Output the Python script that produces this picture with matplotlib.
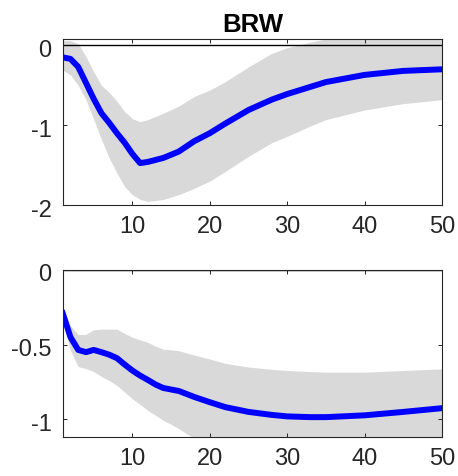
import numpy as np
import matplotlib.pyplot as plt
from matplotlib.transforms import ScaledTranslation

# ---------------------------------------------------------------
# Impulse responses (horizon 1..50)
# ---------------------------------------------------------------
h_top = [1, 2, 3, 4, 5, 6, 7, 8, 9, 10, 11, 12, 14, 16, 18, 20, 22, 25,
         28, 30, 33, 35, 40, 45, 50]
irf_top = [-0.15, -0.17, -0.27, -0.47, -0.67, -0.85, -0.97, -1.10, -1.22,
           -1.36, -1.475, -1.46, -1.41, -1.33, -1.20, -1.10, -0.98, -0.81,
           -0.68, -0.61, -0.52, -0.46, -0.37, -0.32, -0.30]
upper_top = [0.06, 0.06, 0.02, -0.14, -0.33, -0.50, -0.59, -0.70, -0.83,
             -0.92, -0.955, -0.93, -0.85, -0.76, -0.64, -0.56, -0.455, -0.27,
             -0.10, -0.03, 0.04, 0.08, 0.12, 0.14, 0.15]
lower_top = [-0.31, -0.37, -0.50, -0.68, -0.93, -1.18, -1.41, -1.60, -1.77,
             -1.87, -1.93, -1.955, -1.93, -1.87, -1.79, -1.70, -1.58, -1.39,
             -1.22, -1.14, -1.01, -0.93, -0.81, -0.73, -0.68]

h_bot = [1, 2, 3, 4, 5, 6, 7, 8, 9, 10, 11, 12, 13, 14, 15, 16, 17, 18,
         20, 22, 25, 28, 30, 33, 35, 40, 45, 50]
irf_bot = [-0.29, -0.45, -0.535, -0.55, -0.535, -0.55, -0.567, -0.59, -0.633,
           -0.673, -0.707, -0.736, -0.767, -0.79, -0.80, -0.81, -0.83, -0.85,
           -0.885, -0.918, -0.95, -0.97, -0.98, -0.985, -0.985, -0.973,
           -0.95, -0.925]
upper_bot = [-0.25, -0.373, -0.433, -0.43, -0.40, -0.396, -0.396, -0.396,
             -0.425, -0.45, -0.468, -0.485, -0.51, -0.53, -0.535, -0.54,
             -0.555, -0.57, -0.596, -0.625, -0.65, -0.665, -0.673, -0.68,
             -0.684, -0.684, -0.673, -0.662]
lower_bot = [-0.33, -0.54, -0.647, -0.66, -0.68, -0.713, -0.74, -0.773,
             -0.818, -0.862, -0.90, -0.94, -0.973, -1.007, -1.033, -1.062,
             -1.096, -1.125, -1.17, -1.21, -1.26, -1.30, -1.32, -1.34, -1.35,
             -1.36, -1.36, -1.36]

title = 'BRW'
xticks = [10, 20, 30, 40, 50]
yticks_top = [0, -1, -2]
yticks_bot = [0, -0.5, -1]

# ---------------------------------------------------------------
plt.rcParams['font.family'] = ['Liberation Sans', 'DejaVu Sans']
dark = '#262626'

fig = plt.figure(figsize=(4.58, 4.76), dpi=100)
ax1 = fig.add_axes([0.137, 0.5693, 0.828, 0.348])
ax2 = fig.add_axes([0.137, 0.0813, 0.828, 0.3515])


def panel(ax, h, irf, lo, hi, ylim, yticks, ylabels):
    ax.fill_between(h, lo, hi, color='#d9d9d9', linewidth=0, zorder=1)
    ax.plot(h, irf, color='#0000ff', linewidth=4.3, zorder=3)
    ax.axhline(0, color='black', linewidth=1.0, zorder=2)
    ax.set_xlim(1, 50)
    ax.set_ylim(*ylim)
    ax.set_xticks(xticks)
    ax.set_yticks(yticks)
    ax.set_yticklabels(ylabels)
    ax.tick_params(direction='in', length=3, width=0.7, colors=dark,
                   labelsize=17, top=True, right=True)
    ax.tick_params(axis='x', pad=8)
    ax.tick_params(axis='y', pad=8)
    # MATLAB draws the y labels a little below their ticks
    shift = ScaledTranslation(0, -3 / 100, fig.dpi_scale_trans)
    for lab in ax.get_yticklabels():
        lab.set_transform(lab.get_transform() + shift)
    for s in ax.spines.values():
        s.set_color(dark)
        s.set_linewidth(0.8)
        s.set_zorder(4)


panel(ax1, h_top, irf_top, lower_top, upper_top, (-2, 0.075),
      yticks_top, ['0', '-1', '-2'])
panel(ax2, h_bot, irf_bot, lower_bot, upper_bot, (-1.12, 0),
      yticks_bot, ['0', '-0.5', '-1'])

ax1.set_title(title, fontsize=18.5, fontweight='bold', color='black', pad=5)

fig.savefig('out.png', dpi=100)
